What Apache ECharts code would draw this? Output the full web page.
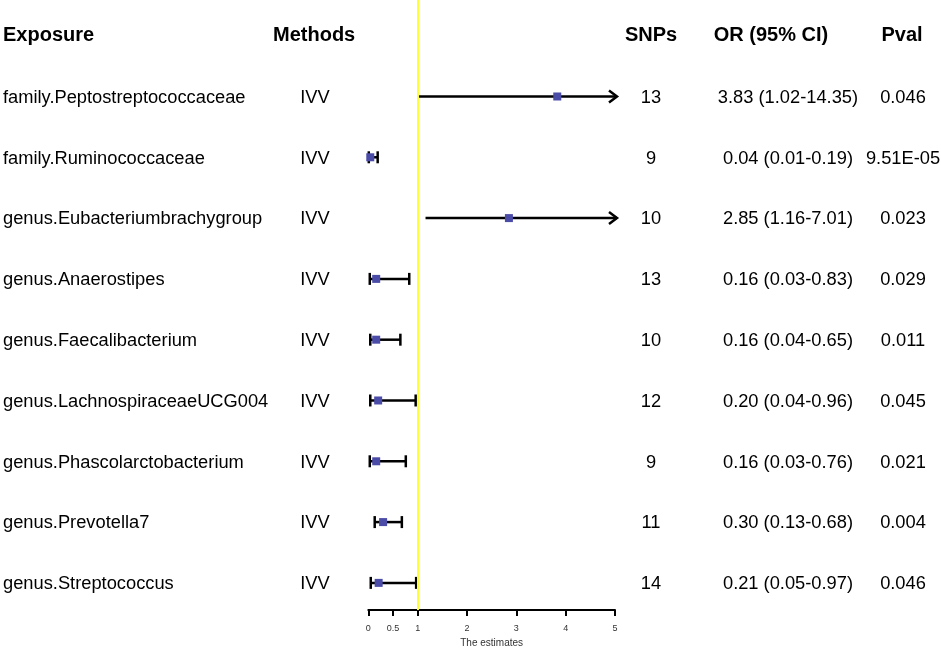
<!DOCTYPE html>
<html>
<head>
<meta charset="utf-8">
<script src="https://cdn.jsdelivr.net/npm/echarts@6/dist/echarts.min.js"></script>
<style>
  html, body { margin: 0; padding: 0; background: #fff; }
  #chart { width: 941px; height: 648px; }
</style>
</head>
<body>
<div id="chart"></div>
<script>
// 表格数据
const exposures = [
  'family.Peptostreptococcaceae',
  'family.Ruminococcaceae',
  'genus.Eubacteriumbrachygroup',
  'genus.Anaerostipes',
  'genus.Faecalibacterium',
  'genus.LachnospiraceaeUCG004',
  'genus.Phascolarctobacterium',
  'genus.Prevotella7',
  'genus.Streptococcus'
];
const methods = ['IVV', 'IVV', 'IVV', 'IVV', 'IVV', 'IVV', 'IVV', 'IVV', 'IVV'];
const snps = [13, 9, 10, 13, 10, 12, 9, 11, 14];
const orVals = [3.83, 0.04, 2.85, 0.16, 0.16, 0.20, 0.16, 0.30, 0.21];
const lowerCI = [1.02, 0.01, 1.16, 0.03, 0.04, 0.04, 0.03, 0.13, 0.05];
const upperCI = [14.35, 0.19, 7.01, 0.83, 0.65, 0.96, 0.76, 0.68, 0.97];
const pvals = ['0.046', '9.51E-05', '0.023', '0.029', '0.011', '0.045', '0.021', '0.004', '0.046'];
const headers = ['Exposure', 'Methods', 'SNPs', 'OR (95% CI)', 'Pval'];
const xTicks = [0, 0.5, 1, 2, 3, 4, 5];

(function () {
  const chart = echarts.init(document.getElementById('chart'));
  const FONT = "'Liberation Sans', Arial, sans-serif";
  const X_MAX = 5;
  // 行的纵向范围（表头为 -1）
  const Y_MIN = -1.587;
  const Y_MAX = 8.446;
  // 各列的横向位置和对齐方式
  const cols = [
    { x: 3, align: 'left' },
    { x: 273, align: 'left' },
    { x: 651, align: 'center' },
    { x: 771, align: 'center' },
    { x: 902, align: 'center' }
  ];
  const bodyCols = [
    { x: 3, align: 'left' },
    { x: 315, align: 'center' },
    { x: 651, align: 'center' },
    { x: 788, align: 'center' },
    { x: 903, align: 'center' }
  ];
  const fmt = v => v.toFixed(2);
  const orText = orVals.map((v, i) => fmt(v) + ' (' + fmt(lowerCI[i]) + '-' + fmt(upperCI[i]) + ')');
  const columns = [exposures, methods, snps.map(String), orText, pvals];

  // 文本列用散点的标签画出
  const textSeries = [];
  headers.forEach((h, c) => {
    textSeries.push({
      type: 'scatter', xAxisIndex: 1, yAxisIndex: 1, symbolSize: 0, silent: true,
      itemStyle: { opacity: 1 },
      data: [[cols[c].x, -1, h]],
      label: {
        show: true, position: 'inside', align: cols[c].align, verticalAlign: 'middle',
        formatter: p => p.value[2], color: '#000', textBorderWidth: 0,
        fontFamily: FONT, fontSize: 20, fontWeight: 'bold'
      }
    });
    textSeries.push({
      type: 'scatter', xAxisIndex: 1, yAxisIndex: 1, symbolSize: 0, silent: true,
      itemStyle: { opacity: 1 },
      data: columns[c].map((t, i) => [bodyCols[c].x, i + 0.02, t]),
      label: {
        show: true, position: 'inside', align: bodyCols[c].align, verticalAlign: 'middle',
        formatter: p => p.value[2], color: '#000', textBorderWidth: 0,
        fontFamily: FONT, fontSize: 18.3
      }
    });
  });

  function renderCI(params, api) {
    const row = api.value(3);
    const lo = api.value(1);
    const hi = api.value(2);
    const pLo = api.coord([lo, row]);
    const pEst = api.coord([api.value(0), row]);
    const arrow = hi > X_MAX;
    const pHi = api.coord([Math.min(hi, X_MAX), row]);
    const line = { stroke: '#000', lineWidth: 2.5 };
    const children = [];
    if (arrow) {
      const tip = pHi[0] + 2;
      children.push({ type: 'line', shape: { x1: pLo[0], y1: pLo[1], x2: tip, y2: pLo[1] }, style: line });
      children.push({
        type: 'polyline',
        shape: { points: [[tip - 8, pLo[1] - 6], [tip, pLo[1]], [tip - 8, pLo[1] + 6]] },
        style: Object.assign({ fill: null }, line)
      });
    } else {
      children.push({ type: 'line', shape: { x1: pLo[0], y1: pLo[1], x2: pHi[0], y2: pHi[1] }, style: line });
      [pLo, pHi].forEach(p => {
        children.push({ type: 'line', shape: { x1: p[0], y1: p[1] - 6, x2: p[0], y2: p[1] + 6 }, style: line });
      });
    }
    children.push({
      type: 'rect',
      shape: { x: pEst[0] - 4, y: pEst[1] - 4, width: 8, height: 8 },
      style: { fill: '#4B4BA8' }
    });
    return { type: 'group', children: children };
  }

  const option = {
    animation: false,
    grid: [
      { left: 368.3, right: 326, top: 0, bottom: 38, outerBoundsMode: 'none', containLabel: false },
      { left: 0, right: 0, top: 0, bottom: 38, outerBoundsMode: 'none', containLabel: false }
    ],
    xAxis: [
      {
        type: 'value', gridIndex: 0, min: 0, max: X_MAX,
        splitLine: { show: false },
        axisLine: { show: true, onZero: false, lineStyle: { color: '#000', width: 2 } },
        axisTick: { show: true, length: 6, lineStyle: { color: '#000', width: 2 }, customValues: xTicks },
        axisLabel: {
          customValues: xTicks, margin: 14, fontSize: 9, color: '#333', fontFamily: FONT,
          formatter: v => String(v)
        },
        name: 'The estimates', nameLocation: 'middle', nameGap: 25,
        nameTextStyle: { fontSize: 10, color: '#333', fontFamily: FONT }
      },
      { type: 'value', gridIndex: 1, min: 0, max: 941, show: false }
    ],
    yAxis: [
      { type: 'value', gridIndex: 0, min: Y_MIN, max: Y_MAX, inverse: true, show: false },
      { type: 'value', gridIndex: 1, min: Y_MIN, max: Y_MAX, inverse: true, show: false }
    ],
    series: [
      {
        type: 'custom', xAxisIndex: 0, yAxisIndex: 0, clip: false, silent: true,
        renderItem: renderCI,
        data: orVals.map((v, i) => [v, lowerCI[i], upperCI[i], i]),
        markLine: {
          silent: true, symbol: 'none', label: { show: false },
          lineStyle: { color: '#FFFF33', width: 2, type: 'solid' },
          data: [{ xAxis: 1 }]
        }
      }
    ].concat(textSeries)
  };
  chart.setOption(option);
})();
</script>
</body>
</html>
